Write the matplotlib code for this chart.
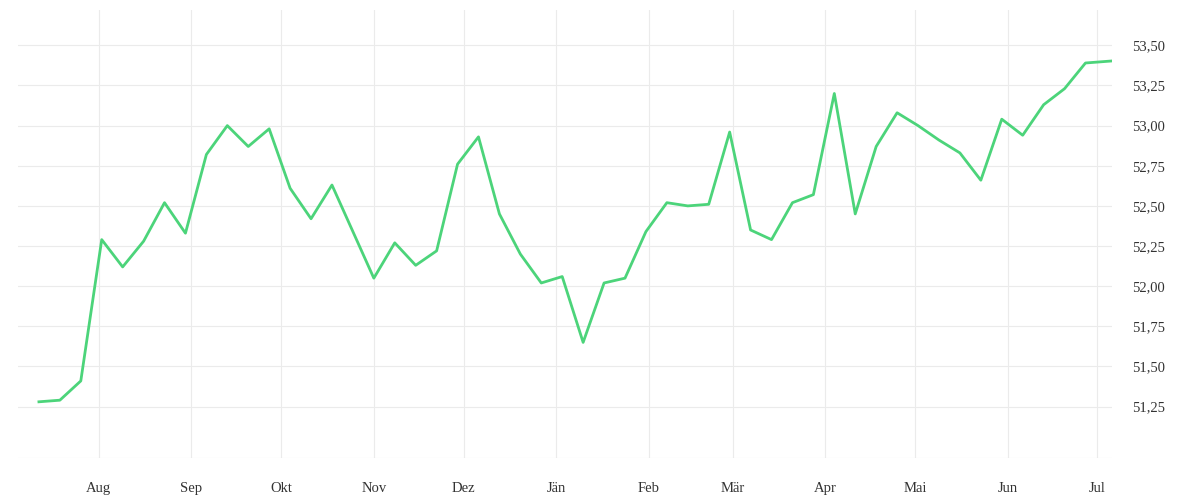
import matplotlib
matplotlib.use("Agg")
import matplotlib.pyplot as plt
import pandas as pd

values = [51.28, 51.29, 51.41, 52.29, 52.12, 52.28, 52.52, 52.33, 52.82, 53.00,
          52.87, 52.98, 52.61, 52.42, 52.63, 52.34, 52.05, 52.27, 52.13, 52.22,
          52.76, 52.93, 52.45, 52.20, 52.02, 52.06, 51.65, 52.02, 52.05, 52.34,
          52.52, 52.50, 52.51, 52.96, 52.35, 52.29, 52.52, 52.57, 53.20, 52.45,
          52.87, 53.08, 53.00, 52.91, 52.83, 52.66, 53.04, 52.94, 53.13, 53.23,
          53.39, 53.40, 53.41]
dates = pd.date_range("2024-07-12", periods=len(values), freq="7D")
month_labels = ["Aug", "Sep", "Okt", "Nov", "Dez", "Jän", "Feb", "Mär", "Apr", "Mai", "Jun", "Jul"]
month_ticks = pd.date_range("2024-08-01", periods=12, freq="MS")
ytick_vals = [51.25, 51.5, 51.75, 52.0, 52.25, 52.5, 52.75, 53.0, 53.25, 53.5]

fig = plt.figure(figsize=(12, 5), dpi=100)
ax = fig.add_axes([0.015, 0.084, 0.912, 0.896])
ax.plot(dates, values, color="#4cd47a", lw=2.0)
ax.set_xlim(pd.Timestamp("2024-07-05"), pd.Timestamp("2025-07-06"))
ax.set_ylim(50.93, 53.72)
ax.yaxis.tick_right()
ax.set_yticks(ytick_vals)
ax.set_yticklabels([f"{v:.2f}".replace(".", ",") for v in ytick_vals])
ax.set_xticks(month_ticks)
ax.set_xticklabels(month_labels)
for t in ax.get_xticklabels() + ax.get_yticklabels():
    t.set_fontfamily("Liberation Serif")
    t.set_fontsize(10.5)
    t.set_color("#333333")
ax.tick_params(axis="x", length=0, pad=17)
ax.tick_params(axis="y", length=0, pad=14)
ax.grid(True, color="#ebebeb", lw=0.8)
for s in ax.spines.values():
    s.set_visible(False)
ax.axhline(50.93, color="#dddddd", lw=0.8)
fig.savefig("out.png")
